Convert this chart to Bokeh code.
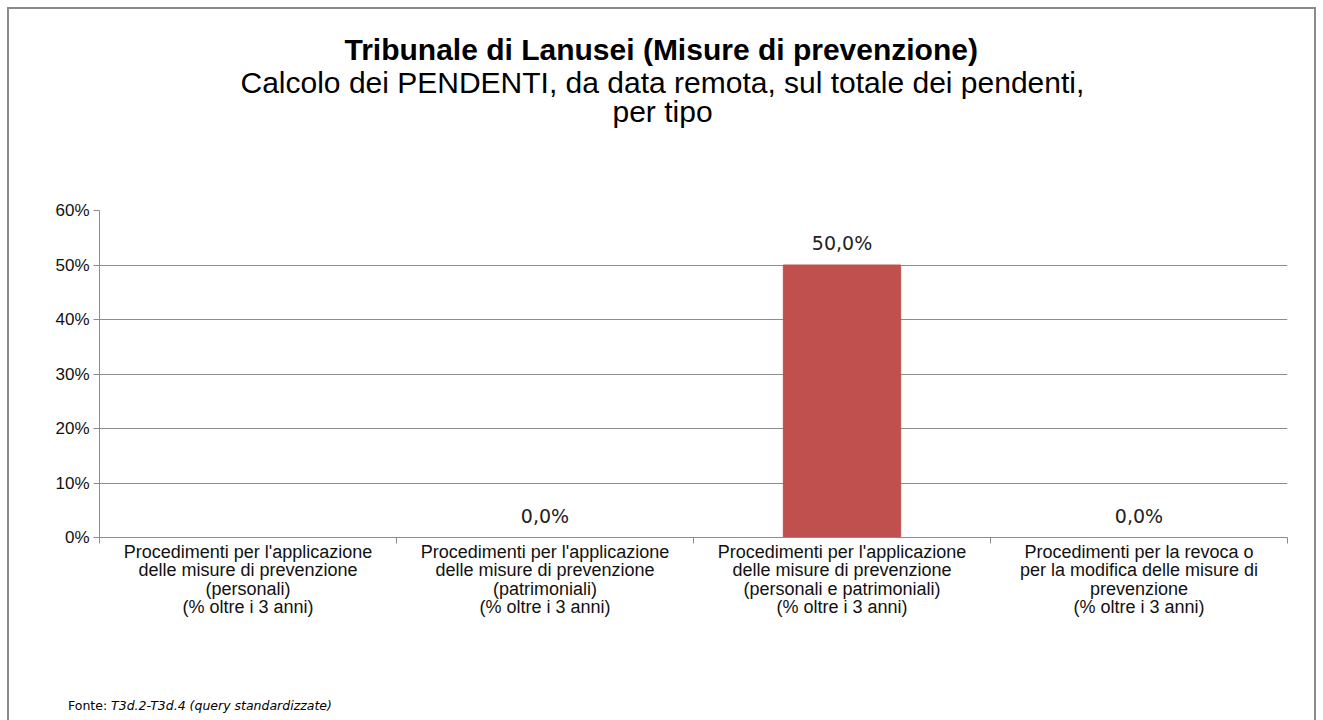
from bokeh.plotting import figure
from bokeh.models import FixedTicker, ColumnDataSource, Range1d, Title, Div
from bokeh.layouts import column
from bokeh.embed import file_html
from bokeh.resources import INLINE
from bokeh.core.properties import value

categories = [
    "Procedimenti per l'applicazione\ndelle misure di prevenzione\n(personali)\n(% oltre i 3 anni)",
    "Procedimenti per l'applicazione\ndelle misure di prevenzione\n(patrimoniali)\n(% oltre i 3 anni)",
    "Procedimenti per l'applicazione\ndelle misure di prevenzione\n(personali e patrimoniali)\n(% oltre i 3 anni)",
    "Procedimenti per la revoca o\nper la modifica delle misure di\nprevenzione\n(% oltre i 3 anni)",
]
values = [None, 0.0, 50.0, 0.0]
value_labels = ["", "0,0%", "50,0%", "0,0%"]
y_ticks = [0, 10, 20, 30, 40, 50, 60]
y_tick_labels = ["0%", "10%", "20%", "30%", "40%", "50%", "60%"]

title = "Tribunale di Lanusei (Misure di prevenzione)"
subtitle1 = "Calcolo dei PENDENTI, da data remota, sul totale dei pendenti,"
subtitle2 = "per tipo"
source_label = "Fonte:"
source_text = "T3d.2-T3d.4 (query standardizzate)"

xs = [i + 0.5 for i in range(len(categories))]
bar_vals = [v if v is not None else float("nan") for v in values]
label_vals = [v if v is not None else 0.0 for v in values]

src = ColumnDataSource(dict(x=xs, top=bar_vals, ly=label_vals, lbl=value_labels))

W, H = 1323, 690
p = figure(width=W, height=H, output_backend="svg", toolbar_location=None,
           title_location=None,
           x_range=Range1d(0, len(categories)), y_range=Range1d(0, 60),
           min_border_left=99, min_border_right=36, min_border_top=0, min_border_bottom=153)
p.outline_line_color = None
p.background_fill_color = "white"
p.border_fill_alpha = 0

p.vbar(x="x", top="top", bottom=0, width=0.395, source=src, color="#C0504D")
p.text(x="x", y="ly", text="lbl", source=src, text_align="center", text_baseline="bottom",
       y_offset=-11, text_font=value("DejaVu Sans"), text_font_size="19px", text_color="#222222")

TF = "Liberation Sans"
# titles, added nearest-first
p.add_layout(Title(text=" ", text_font_size="10px", standoff=73), "above")
p.add_layout(Title(text=subtitle2, align="left", offset=513, text_font=TF, text_font_size="30px",
                   text_font_style="normal", text_color="#000000", standoff=-6), "above")
p.add_layout(Title(text=subtitle1, align="left", offset=141, text_font=TF, text_font_size="30px",
                   text_font_style="normal", text_color="#000000", standoff=-6), "above")
p.add_layout(Title(text=title, align="left", offset=245, text_font=TF, text_font_size="30px",
                   text_font_style="bold", text_color="#000000", standoff=2), "above")
p.add_layout(Title(text=" ", text_font_size="10px", standoff=16), "above")

# grid
p.xgrid.grid_line_color = None
p.ygrid.grid_line_color = "#8c8c8c"
p.ygrid.ticker = FixedTicker(ticks=y_ticks)

# y axis
p.yaxis.ticker = FixedTicker(ticks=y_ticks)
p.yaxis.major_label_overrides = {t: l for t, l in zip(y_ticks, y_tick_labels)}
p.yaxis.axis_line_color = "#8c8c8c"
p.yaxis.major_tick_line_color = "#8c8c8c"
p.yaxis.major_tick_out = 6
p.yaxis.major_tick_in = 0
p.yaxis.minor_tick_line_color = None
p.yaxis.major_label_text_font = TF
p.yaxis.major_label_text_font_size = "17px"
p.yaxis.major_label_text_color = "#111111"
p.yaxis.major_label_standoff = 4

# x axis
p.xaxis.ticker = FixedTicker(ticks=xs, minor_ticks=list(range(len(categories) + 1)))
p.xaxis.major_label_overrides = {x: c for x, c in zip(xs, categories)}
p.xaxis.axis_line_color = "#8c8c8c"
p.xaxis.major_tick_line_color = None
p.xaxis.major_tick_in = 0
p.xaxis.major_tick_out = 0
p.xaxis.minor_tick_line_color = "#8c8c8c"
p.xaxis.minor_tick_out = 6
p.xaxis.minor_tick_in = 0
p.xaxis.major_label_text_font = TF
p.xaxis.major_label_text_font_size = "18px"
p.xaxis.major_label_text_color = "#111111"
p.xaxis.major_label_standoff = -2
p.xaxis.major_label_text_line_height = 0.93

footer = Div(text=f'<span style="font-family:\'DejaVu Sans\';font-size:12.5px;color:#000;white-space:nowrap">'
                  f'{source_label} <i>{source_text}</i></span>',
             width=W, height=30, styles={"padding-left": "63px", "padding-top": "2px",
                                         "box-sizing": "border-box"})

g = "linear-gradient(#8a8a8a,#8a8a8a)"
border_bg = (f"{g} 7px 7px/1309px 2px no-repeat, {g} 7px 7px/2px 730px no-repeat, "
             f"{g} 1314px 7px/2px 730px no-repeat, #ffffff")
layout = column(p, footer, spacing=0, styles={"background": border_bg})

open("out.html", "w").write(file_html(layout, INLINE))
